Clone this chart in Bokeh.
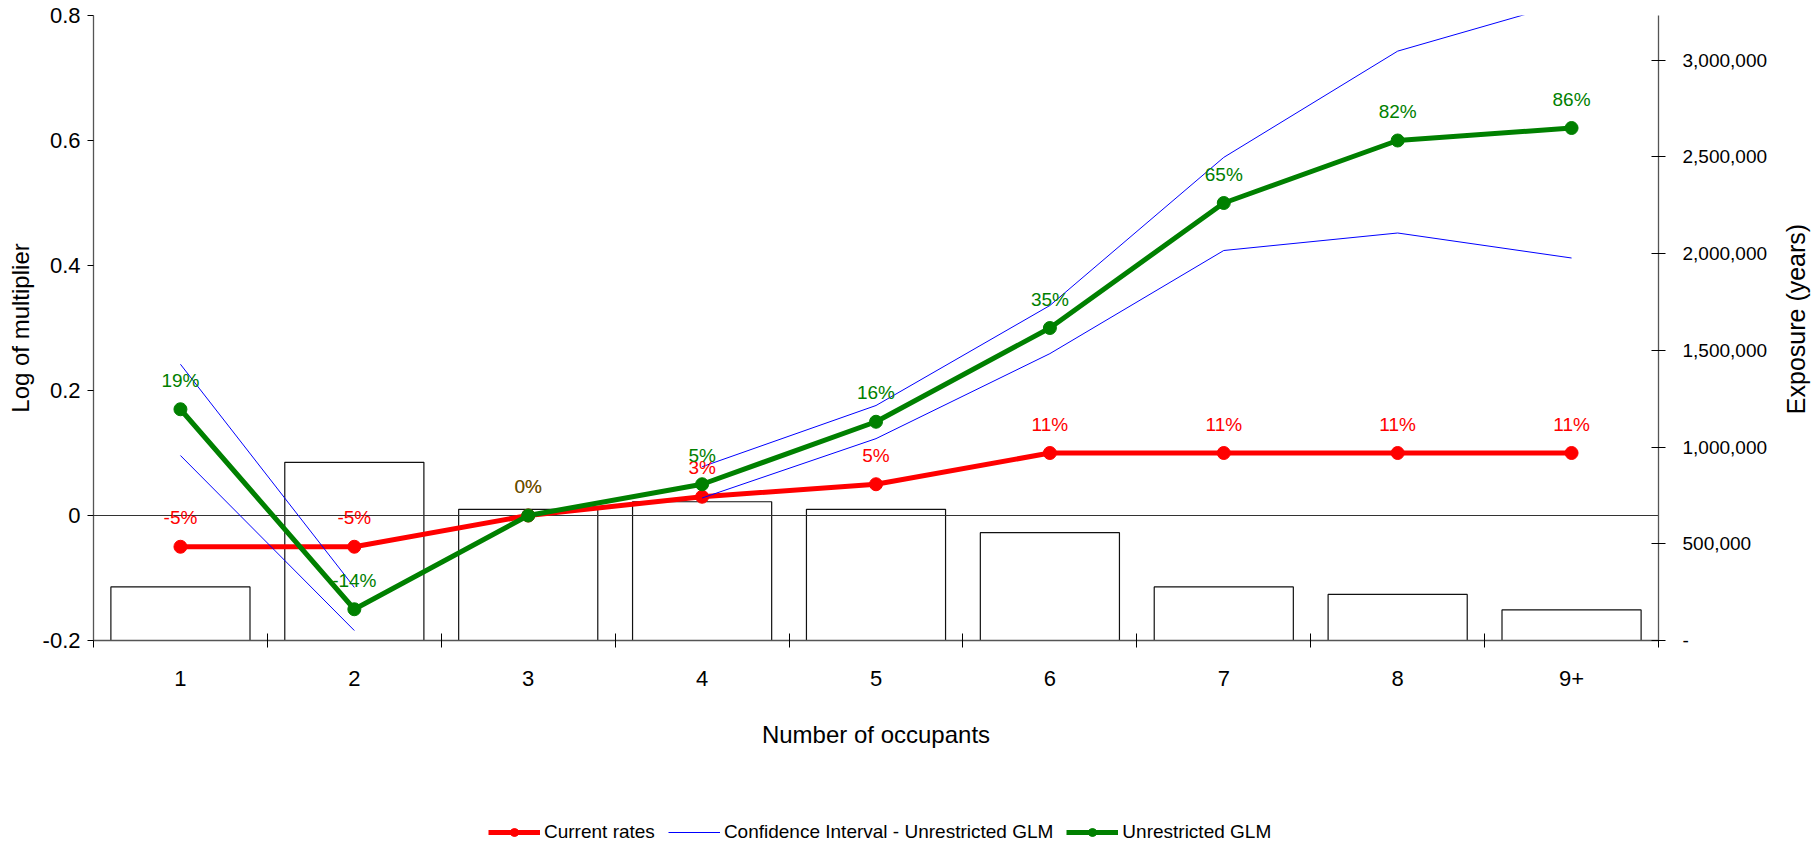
import math

from bokeh.core.properties import value
from bokeh.embed import file_html
from bokeh.layouts import column, row
from bokeh.models import (ColumnDataSource, FixedTicker, Label, Legend, LegendItem,
                          LinearAxis, NumeralTickFormatter, Range1d)
from bokeh.plotting import figure
from bokeh.resources import INLINE

# ---- data -------------------------------------------------------------
categories = ["1", "2", "3", "4", "5", "6", "7", "8", "9+"]
exposure_years = [277000, 921000, 678000, 717000, 678000, 557000, 277000, 238000, 158000]
current_rates = [-0.05, -0.05, 0.0, 0.03, 0.05, 0.10, 0.10, 0.10, 0.10]
unrestricted_glm = [0.17, -0.15, 0.0, 0.05, 0.15, 0.30, 0.50, 0.60, 0.62]
ci_upper = [0.242, -0.115, float("nan"), 0.078, 0.176, 0.336, 0.573, 0.743, 0.823]
ci_lower = [0.096, -0.184, float("nan"), 0.028, 0.123, 0.259, 0.424, 0.452, 0.412]
left_ticks = [-0.2, 0, 0.2, 0.4, 0.6, 0.8]
right_ticks = [0, 500000, 1000000, 1500000, 2000000, 2500000, 3000000]

FONT = "Liberation Sans"
RED = "#ff0000"
GREEN = "#008000"
BLUE = "#0000ff"
AXIS_GREY = "#555555"

# canvas geometry (px)
MAIN_W, MAIN_H = 1778, 800
TITLE_W = 40
LEGEND_H = 45
BORDER_L, BORDER_R, BORDER_T, BORDER_B = 93, 120, 15, 160

xs = list(range(len(categories)))


def pct_label(v):
    """Log multiplier -> percentage change label."""
    return f"{round((math.exp(v) - 1) * 100):.0f}%"


# ---- main chart -------------------------------------------------------
p = figure(width=MAIN_W, height=MAIN_H, title=None,
           x_range=Range1d(-0.5, len(categories) - 0.5),
           y_range=Range1d(-0.2, 0.8),
           output_backend="svg", toolbar_location=None,
           min_border_left=BORDER_L, min_border_right=BORDER_R,
           min_border_top=BORDER_T, min_border_bottom=BORDER_B)
p.xgrid.visible = False
p.ygrid.visible = False
p.outline_line_color = None
p.background_fill_color = "white"
p.border_fill_color = "white"

p.extra_y_ranges = {"exposure": Range1d(0, 3230000)}

# exposure bars on the secondary axis
p.vbar(x=xs, top=exposure_years, bottom=0, width=0.8, y_range_name="exposure",
       fill_color="white", line_color="#111111", line_width=1.2)

# zero reference line
p.hspan(y=[0], line_color="#333333", line_width=1)

# current rates
p.line(xs, current_rates, line_color=RED, line_width=5)
p.scatter(xs, current_rates, marker="circle", size=13, fill_color=RED, line_color=RED)

# confidence interval of the unrestricted GLM
p.line(xs, ci_upper, line_color=BLUE, line_width=1)
p.line(xs, ci_lower, line_color=BLUE, line_width=1)

# unrestricted GLM
p.line(xs, unrestricted_glm, line_color=GREEN, line_width=5)
p.scatter(xs, unrestricted_glm, marker="circle", size=13, fill_color=GREEN, line_color=GREEN)

# percentage labels above each point
red_src = ColumnDataSource(dict(x=xs, y=current_rates,
                                label=[pct_label(v) for v in current_rates]))
green_src = ColumnDataSource(dict(x=xs, y=unrestricted_glm,
                                  label=[pct_label(v) for v in unrestricted_glm],
                                  alpha=[0.7 if v == 0 else 1.0 for v in unrestricted_glm]))
p.text(x="x", y="y", text="label", source=red_src, text_color=RED,
       text_font=value(FONT), text_font_size="19px", text_align="center",
       text_baseline="middle", y_offset=-29)
p.text(x="x", y="y", text="label", source=green_src, text_color=GREEN,
       text_alpha="alpha", text_font=value(FONT), text_font_size="19px",
       text_align="center", text_baseline="middle", y_offset=-29)

# ---- axes -------------------------------------------------------------
xa = p.xaxis[0]
xa.ticker = FixedTicker(ticks=xs, minor_ticks=[i - 0.5 for i in range(len(categories) + 1)])
xa.major_label_overrides = {i: c for i, c in enumerate(categories)}
xa.major_tick_line_color = None
xa.major_tick_in = 0
xa.major_tick_out = 0
xa.minor_tick_line_color = "black"
xa.minor_tick_in = 7
xa.minor_tick_out = 7
xa.axis_line_color = AXIS_GREY
xa.axis_line_width = 1.3
xa.major_label_standoff = 23
xa.major_label_text_font = FONT
xa.major_label_text_font_size = "22px"
xa.major_label_text_color = "black"
xa.axis_label = "Number of occupants"
xa.axis_label_standoff = 32
xa.axis_label_text_font = FONT
xa.axis_label_text_font_size = "24px"
xa.axis_label_text_font_style = "normal"
xa.axis_label_text_color = "black"

ya = p.yaxis[0]
ya.ticker = FixedTicker(ticks=left_ticks)
ya.major_label_overrides = {-0.2: "-0.2", 0: "0"}
ya.major_tick_in = 0
ya.major_tick_out = 6
ya.major_tick_line_color = "black"
ya.minor_tick_line_color = None
ya.axis_line_color = AXIS_GREY
ya.axis_line_width = 1.3
ya.major_label_standoff = 7
ya.major_label_text_font = FONT
ya.major_label_text_font_size = "22px"
ya.major_label_text_color = "black"
ya.axis_label = "Log of multiplier"
ya.axis_label_standoff = 6
ya.axis_label_text_font = FONT
ya.axis_label_text_font_size = "24px"
ya.axis_label_text_font_style = "normal"
ya.axis_label_text_color = "black"

ra = LinearAxis(y_range_name="exposure", ticker=FixedTicker(ticks=right_ticks),
                formatter=NumeralTickFormatter(format="0,0"))
ra.major_label_overrides = {0: "-"}
ra.major_tick_in = 7
ra.major_tick_out = 7
ra.major_tick_line_color = "black"
ra.minor_tick_line_color = None
ra.axis_line_color = AXIS_GREY
ra.axis_line_width = 1.3
ra.major_label_standoff = 17
ra.major_label_text_font = FONT
ra.major_label_text_font_size = "19px"
ra.major_label_text_color = "black"
p.add_layout(ra, "right")

# ---- secondary axis title strip (text reads bottom to top) -------------
tfig = figure(width=TITLE_W, height=MAIN_H + LEGEND_H, title=None,
              x_range=Range1d(0, 1), y_range=Range1d(0, 1),
              x_axis_location=None, y_axis_location=None,
              output_backend="svg", toolbar_location=None,
              min_border_left=0, min_border_right=0,
              min_border_top=BORDER_T, min_border_bottom=MAIN_H + LEGEND_H - (MAIN_H - BORDER_B))
tfig.xgrid.visible = False
tfig.ygrid.visible = False
tfig.outline_line_color = None
frame_h = MAIN_H - BORDER_B - BORDER_T
tfig.add_layout(Label(x=17, y=frame_h / 2 + 9, x_units="screen", y_units="screen",
                      text="Exposure (years)", angle=math.pi / 2,
                      text_align="center", text_baseline="middle",
                      text_font=FONT, text_font_size="25px", text_color="black"))

# ---- legend strip -----------------------------------------------------
leg = figure(width=MAIN_W, height=LEGEND_H, title=None,
             x_range=Range1d(0, 1), y_range=Range1d(0, 1),
             x_axis_location=None, y_axis_location=None,
             output_backend="svg", toolbar_location=None,
             min_border_left=BORDER_L, min_border_right=BORDER_R,
             min_border_top=0, min_border_bottom=0)
leg.xgrid.visible = False
leg.ygrid.visible = False
leg.outline_line_color = None

# key glyphs sit outside the visible range; only their legend swatches show
off = [-2, -1]
k_red_line = leg.line(x=off, y=off, line_color=RED, line_width=5)
k_red_dot = leg.scatter(x=off, y=off, marker="circle", size=13, fill_color=RED, line_color=RED)
k_ci = leg.line(x=off, y=off, line_color=BLUE, line_width=1)
k_green_line = leg.line(x=off, y=off, line_color=GREEN, line_width=5)
k_green_dot = leg.scatter(x=off, y=off, marker="circle", size=13, fill_color=GREEN, line_color=GREEN)

legend = Legend(items=[
    LegendItem(label="Current rates", renderers=[k_red_line, k_red_dot]),
    LegendItem(label="Confidence Interval - Unrestricted GLM", renderers=[k_ci]),
    LegendItem(label="Unrestricted GLM", renderers=[k_green_line, k_green_dot]),
], orientation="horizontal", location=(488 - BORDER_L, 2), padding=0, margin=0,
    spacing=13, glyph_width=52, glyph_height=20, label_standoff=4,
    label_text_font=FONT, label_text_font_size="19px", label_text_color="black",
    border_line_color=None, background_fill_alpha=0)
leg.add_layout(legend)

layout = row(column(p, leg, spacing=0), tfig, spacing=0)
open("out.html", "w").write(file_html(layout, INLINE))
